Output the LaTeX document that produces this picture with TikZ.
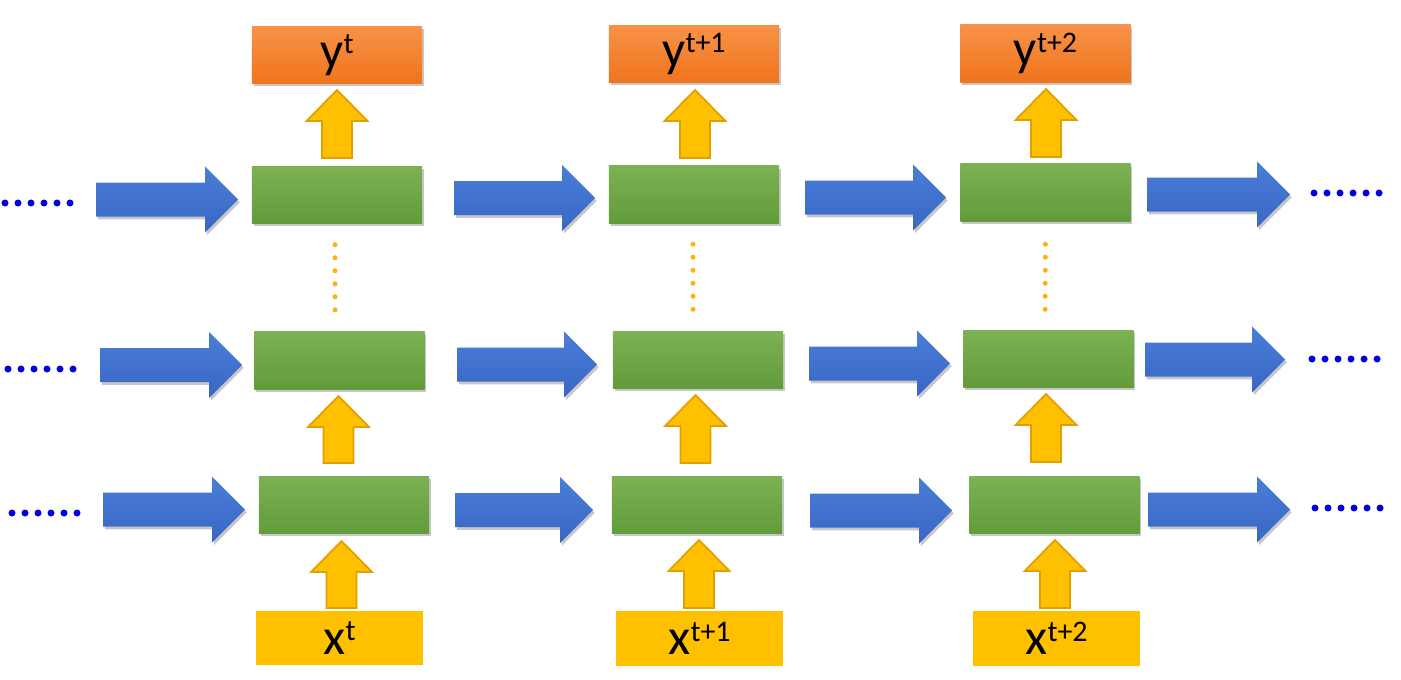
\documentclass[tikz,border=0pt]{standalone}
\usepackage{fontspec}
\setmainfont{Carlito}
\usetikzlibrary{shadows}
\definecolor{orTop}{RGB}{247,146,72}
\definecolor{orBot}{RGB}{240,116,28}
\definecolor{grTop}{RGB}{124,177,84}
\definecolor{grBot}{RGB}{98,156,58}
\definecolor{blTop}{RGB}{74,126,216}
\definecolor{blBot}{RGB}{56,102,196}
\definecolor{yel}{RGB}{255,192,0}
\definecolor{yelEdge}{RGB}{226,160,0}
\definecolor{dotBlue}{RGB}{0,0,225}
\definecolor{dotOr}{RGB}{255,176,20}
\newcommand\rnnLabel[2]{\fontsize{14.5}{15}\selectfont #1\raisebox{3.8pt}{\fontsize{8.5}{9}\selectfont #2}}
\newcommand\rnnRight[3]{%
  \path[bluearrow] (#1,#3-17) -- (#2-33,#3-17) -- (#2-33,#3-33) -- (#2,#3) -- (#2-33,#3+33) -- (#2-33,#3+17) -- (#1,#3+17) -- cycle;}
\newcommand\rnnUp[3]{%
  \path[yelarrow] (#1-15,#3) -- (#1-15,#2+31) -- (#1-30.5,#2+31) -- (#1,#2) -- (#1+30.5,#2+31) -- (#1+15,#2+31) -- (#1+15,#3) -- cycle;}
\tikzset{
  boxshadow/.style={drop shadow={shadow xshift=0.5pt, shadow yshift=-0.8pt, opacity=0.22, fill=black}},
  ybox/.style={minimum width=1.70cm, minimum height=0.57cm, inner sep=0pt, top color=orTop, bottom color=orBot, boxshadow},
  gbox/.style={minimum width=1.70cm, minimum height=0.57cm, inner sep=0pt, top color=grTop, bottom color=grBot, boxshadow},
  xbox/.style={minimum width=1.67cm, minimum height=0.54cm, inner sep=0pt, fill=yel},
  bluearrow/.style={top color=blTop, bottom color=blBot, boxshadow},
  yelarrow/.style={fill=yel, draw=yelEdge, line width=0.5pt},
  bluedots/.style={draw=dotBlue, line width=0.07cm, line cap=round, dash pattern=on 0pt off 0.13cm},
  ordots/.style={draw=dotOr, line width=0.05cm, line cap=round, dash pattern=on 0pt off 0.13cm}
}
\begin{document}
\begin{tikzpicture}[x=0.01cm, y=-0.01cm]
\fill[white] (0,0) rectangle (1401,679);
\useasboundingbox (0,0) rectangle (1401,679);
% outputs
\node[ybox] (yout1) at (337,55) {\rnnLabel{y}{t}};
\node[ybox] (yout2) at (694,54) {\rnnLabel{y}{t+1}};
\node[ybox] (yout3) at (1045.5,53.5) {\rnnLabel{y}{t+2}};
% green cells
\node[gbox] (gT1) at (337,195) {};
\node[gbox] (gT2) at (694,194.5) {};
\node[gbox] (gT3) at (1045.5,192.5) {};
\node[gbox] (gM1) at (339.5,360.5) {};
\node[gbox] (gM2) at (698,360) {};
\node[gbox] (gM3) at (1048.5,359) {};
\node[gbox] (gB1) at (344,505) {};
\node[gbox] (gB2) at (697,505) {};
\node[gbox] (gB3) at (1054.5,505) {};
% inputs
\node[xbox] (xin1) at (339.5,638) {\rnnLabel{x}{t}};
\node[xbox] (xin2) at (699.5,638.5) {\rnnLabel{x}{t+1}};
\node[xbox] (xin3) at (1056.5,638.5) {\rnnLabel{x}{t+2}};
% blue horizontal arrows
\rnnRight{96}{238}{199.5}
\rnnRight{454}{595}{198}
\rnnRight{805}{946}{197.5}
\rnnRight{1147}{1290}{194.5}
\rnnRight{100}{242}{365}
\rnnRight{457}{597}{364.5}
\rnnRight{809}{950}{363.5}
\rnnRight{1145}{1285}{359.5}
\rnnRight{103}{245}{509.5}
\rnnRight{455}{593}{510}
\rnnRight{810}{952}{510.5}
\rnnRight{1148}{1290}{509.5}
% yellow up arrows
\rnnUp{337}{90}{158}
\rnnUp{695}{90}{158}
\rnnUp{1046}{89}{157}
\rnnUp{338.5}{396}{463}
\rnnUp{695.5}{395}{463}
\rnnUp{1046}{394}{462}
\rnnUp{341.5}{541}{608}
\rnnUp{699}{540}{608}
\rnnUp{1055}{540}{608}
% blue dots
\draw[bluedots] (5,203) -- (71,203);
\draw[bluedots] (8,369) -- (74,369);
\draw[bluedots] (12,513) -- (78,513);
\draw[bluedots] (1314,193) -- (1380,193);
\draw[bluedots] (1312,359) -- (1378,359);
\draw[bluedots] (1315,508) -- (1381,508);
% orange vertical dots between layers
\draw[ordots, shorten <=0.205cm, shorten >=0.21cm] ([xshift=-0.02cm]gT1.south) -- ([xshift=-0.045cm]gM1.north);
\draw[ordots, shorten <=0.205cm, shorten >=0.21cm] ([xshift=-0.01cm]gT2.south) -- ([xshift=-0.05cm]gM2.north);
\draw[ordots, shorten <=0.225cm, shorten >=0.20cm] (gT3.south) -- ([xshift=-0.035cm]gM3.north);
\end{tikzpicture}
\end{document}
